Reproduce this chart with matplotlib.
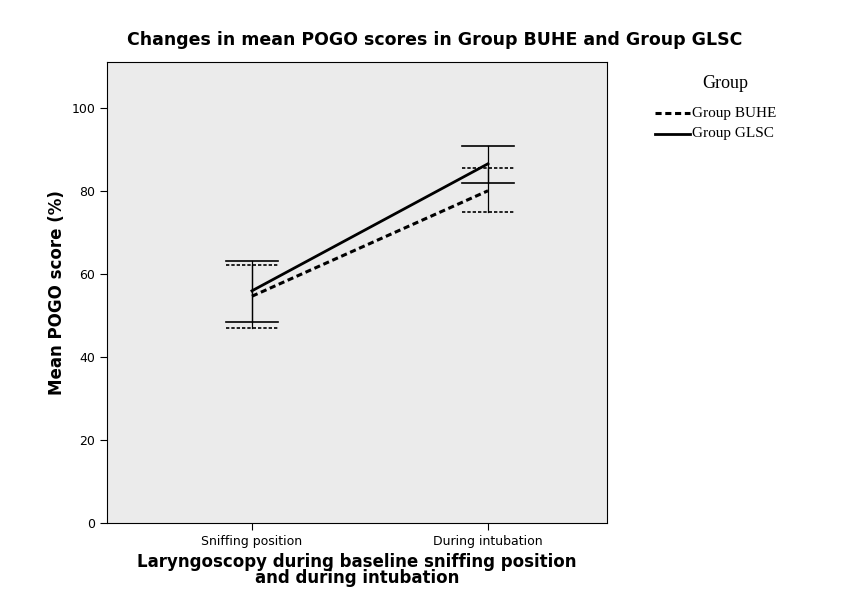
import numpy as np
import matplotlib.pyplot as plt

# ------- Data -------
categories = ['Sniffing position', 'During intubation']
buhe_mean = [54.6, 80.0]
buhe_low = [47.0, 75.0]
buhe_high = [62.2, 85.5]
glsc_mean = [55.9, 86.5]
glsc_low = [48.4, 81.9]
glsc_high = [63.1, 90.8]

# ------- Figure -------
fig = plt.figure(figsize=(8.51, 6.12), dpi=100)
ax = fig.add_axes([107/851, 1-523/612, 500/851, 461/612])
ax.set_facecolor('#ebebeb')

x = np.arange(len(categories))

def draw_series(mean, low, high, ls, lw, cap):
    ax.plot(x, mean, color='black', linestyle=ls, linewidth=lw)
    for xi, lo, hi in zip(x, low, high):
        ax.plot([xi, xi], [lo, hi], color='black', linewidth=0.9)
        ax.plot([xi-cap, xi+cap], [lo, lo], color='black', linestyle=ls, linewidth=1.2)
        ax.plot([xi-cap, xi+cap], [hi, hi], color='black', linestyle=ls, linewidth=1.2)

draw_series(buhe_mean, buhe_low, buhe_high, (0, (2, 1.2)), 2.2, 0.11)
draw_series(glsc_mean, glsc_low, glsc_high, '-', 2.0, 0.11)

ax.set_xlim(-0.614, 1.504)
ax.set_ylim(0, 111)
ax.set_xticks(x)
ax.set_xticklabels(categories, fontsize=9)
ax.set_yticks([0, 20, 40, 60, 80, 100])
ax.tick_params(labelsize=9, length=5)
ax.set_ylabel('Mean POGO score (%)', fontsize=12, fontweight='bold')
ax.set_xlabel('Laryngoscopy during baseline sniffing position\nand during intubation',
              fontsize=12, fontweight='bold', linespacing=0.8)
fig.text(435/851, 1-40/612, 'Changes in mean POGO scores in Group BUHE and Group GLSC',
         fontsize=12.5, fontweight='bold', ha='center', va='center')

# ------- Legend outside on the right -------
fig.text(725/851, 1-84/612, 'Group', fontsize=13, family='Liberation Serif', ha='center', va='center')
fig.lines.append(plt.Line2D([655/851, 690/851], [1-113/612]*2, color='black',
                            linestyle=(0, (2, 1.2)), linewidth=2.2, transform=fig.transFigure))
fig.lines.append(plt.Line2D([655/851, 690/851], [1-134/612]*2, color='black',
                            linewidth=2.0, transform=fig.transFigure))
fig.text(692/851, 1-113/612, 'Group BUHE', fontsize=11, family='Liberation Serif', va='center')
fig.text(692/851, 1-134/612, 'Group GLSC', fontsize=11, family='Liberation Serif', va='center')

plt.savefig('out.png', dpi=100)
